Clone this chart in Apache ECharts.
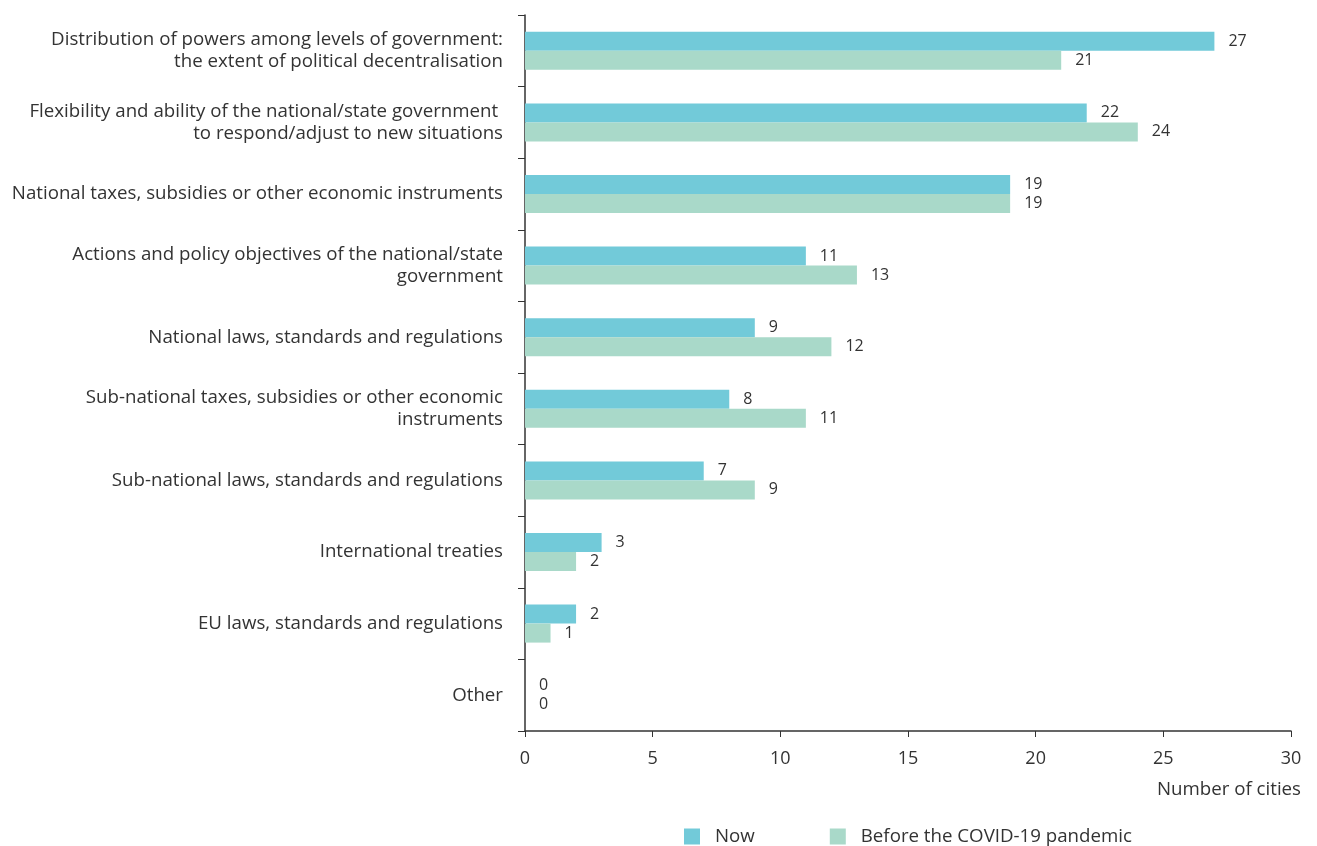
<!DOCTYPE html>
<html><head><meta charset="utf-8">
<script src="https://cdn.jsdelivr.net/npm/echarts@6/dist/echarts.min.js"></script>
<style>html,body{margin:0;padding:0;background:#fff}#c{width:1317px;height:846px}</style>
</head><body><div id="c"></div>
<script>
const categories = [
  "Distribution of powers among levels of government:\nthe extent of political decentralisation",
  "Flexibility and ability of the national/state government \nto respond/adjust to new situations",
  "National taxes, subsidies or other economic instruments",
  "Actions and policy objectives of the national/state\ngovernment",
  "National laws, standards and regulations",
  "Sub-national taxes, subsidies or other economic\ninstruments",
  "Sub-national laws, standards and regulations",
  "International treaties",
  "EU laws, standards and regulations",
  "Other"
];
const nowValues = [27, 22, 19, 11, 9, 8, 7, 3, 2, 0];
const beforeValues = [21, 24, 19, 13, 12, 11, 9, 2, 1, 0];
const seriesNames = ["Now", "Before the COVID-19 pandemic"];
const xTicks = { min: 0, max: 30, interval: 5 };

const font = "'Open Sans', sans-serif";
const txt = '#333333';
const chart = echarts.init(document.getElementById('c'));
const labelCfg = { show: true, position: 'right', distance: 14, color: txt, fontSize: 16, fontFamily: font };
chart.setOption({
  animation: false,
  grid: { left: 525, right: 26, top: 15, bottom: 115, containLabel: false },
  legend: {
    left: 679, top: 822, itemWidth: 16, itemHeight: 16, itemGap: 75,
    icon: 'rect',
    textStyle: { color: txt, fontSize: 18.7, fontFamily: font, padding: [0, 0, 0, 10] },
    data: seriesNames
  },
  xAxis: {
    type: 'value', min: xTicks.min, max: xTicks.max, interval: xTicks.interval,
    axisLine: { show: true, lineStyle: { color: '#333', width: 1.5 } },
    axisTick: { show: true, length: 6, lineStyle: { color: '#333' } },
    splitLine: { show: false },
    axisLabel: { color: txt, fontSize: 18, fontFamily: font, margin: 19 },
    name: 'Number of cities', nameLocation: 'end', nameGap: 10,
    nameTextStyle: { color: txt, fontSize: 18.7, fontFamily: font, align: 'right', verticalAlign: 'top', padding: [49, 0, 0, 0] }
  },
  yAxis: {
    type: 'category', inverse: true, data: categories,
    axisLine: { show: true, lineStyle: { color: '#333', width: 1.5 } },
    axisTick: { show: true, length: 7, lineStyle: { color: '#333' } },
    axisLabel: { color: txt, fontSize: 18.7, fontFamily: font, margin: 22, lineHeight: 22, align: 'right' }
  },
  series: [
    { name: seriesNames[0], type: 'bar', data: nowValues, barWidth: 19, barGap: '0%',
      itemStyle: { color: '#72CAD9' }, label: labelCfg },
    { name: seriesNames[1], type: 'bar', data: beforeValues, barWidth: 19, barGap: '0%',
      itemStyle: { color: '#A9D9C9' }, label: labelCfg }
  ]
});
</script></body></html>
